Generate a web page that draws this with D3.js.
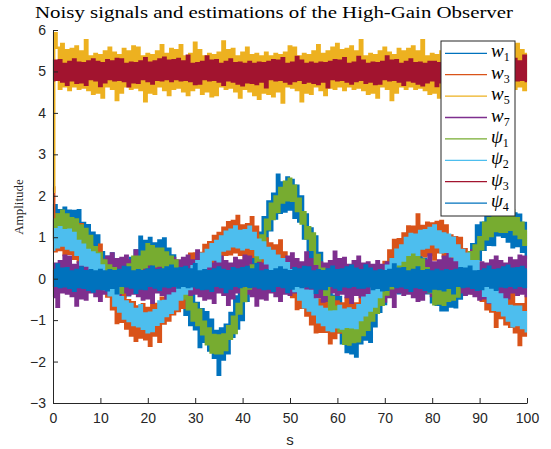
<!DOCTYPE html>
<html>
<head>
<meta charset="utf-8">
<script src="https://cdn.jsdelivr.net/npm/d3@7"></script>
<style>
  html, body { margin: 0; padding: 0; background: #fff; }
  svg { display: block; }
</style>
</head>
<body>
<svg id="chart" width="551" height="449"></svg>
<script>
// Sampling period of every recorded trace (seconds)
const dt = 0.5;

// Measured states (noisy)
const w1 = [
0.92,1.77,0.95,1.65,0.77,1.71,0.91,1.64,0.83,1.63,
0.88,1.65,0.68,1.34,0.44,1.29,0.41,1.11,0.26,1.04,
0.02,0.64,-0.22,0.53,-0.28,0.61,-0.37,0.36,-0.55,0.23,
-0.44,0.38,-0.40,0.50,-0.24,0.68,0.06,1.01,0.10,0.91,
0.18,0.98,0.14,0.85,0.02,0.92,0.17,0.97,0.05,0.72,
-0.16,0.56,-0.45,0.26,-0.61,0.08,-0.87,-0.22,-1.12,-0.37,
-1.22,-0.59,-1.65,-0.74,-1.52,-0.81,-1.73,-0.99,-1.91,-1.26,
-2.32,-1.20,-1.95,-1.11,-1.80,-0.83,-1.40,-0.43,-1.20,-0.32,
-1.00,0.04,-0.53,0.45,-0.20,0.88,0.20,1.11,0.48,1.48,
0.90,1.86,1.17,2.05,1.45,2.51,1.59,2.32,1.62,2.44,
1.67,2.38,1.47,2.24,1.38,1.98,0.97,1.55,0.44,1.21,
0.31,1.02,0.10,0.62,-0.31,0.30,-0.64,0.00,-1.01,-0.41,
-1.28,-0.44,-1.56,-0.95,-1.77,-1.00,-1.80,-1.03,-1.88,-0.91,
-1.56,-0.71,-1.47,-0.65,-1.52,-0.50,-1.15,-0.16,-0.80,0.02,
-0.61,0.36,-0.35,0.54,-0.24,0.50,-0.35,0.64,-0.11,0.68,
-0.07,0.79,0.10,0.90,-0.04,0.61,-0.30,0.48,-0.35,0.36,
-0.57,0.27,-0.63,0.07,-0.76,-0.03,-0.76,0.22,-0.67,0.14,
-0.69,0.14,-0.48,0.37,-0.38,0.56,-0.15,0.83,0.26,1.28,
0.45,1.35,0.70,1.58,0.82,1.58,0.81,1.75,1.05,1.89,
1.01,1.73,0.90,1.70,0.76,1.57,0.79,1.54,0.65,1.34,
0.48];

const w3 = [
2.20,0.66,1.55,0.69,1.40,0.57,1.38,0.60,1.37,0.48,
1.19,0.41,1.31,0.24,0.86,0.01,0.78,-0.07,0.74,-0.01,
0.82,-0.23,0.45,-0.43,0.23,-0.74,-0.15,-1.07,-0.24,-1.04,
-0.27,-1.20,-0.52,-1.37,-0.57,-1.50,-0.67,-1.42,-0.62,-1.46,
-0.71,-1.62,-0.64,-1.37,-0.61,-1.52,-0.46,-1.08,-0.27,-1.01,
-0.17,-0.86,0.08,-0.78,0.00,-0.70,0.21,-0.44,0.60,-0.23,
0.61,-0.20,0.62,-0.01,0.81,0.07,0.88,0.13,1.03,0.33,
1.10,0.18,1.23,0.58,1.36,0.59,1.39,0.64,1.51,0.58,
1.28,0.49,1.31,0.55,1.48,0.53,1.25,0.32,1.02,0.27,
0.97,0.07,0.85,-0.01,0.80,0.07,0.92,-0.09,0.63,-0.21,
0.49,-0.44,0.18,-0.73,0.10,-0.70,0.06,-0.89,-0.23,-1.10,
-0.33,-1.29,-0.50,-1.28,-0.52,-1.28,-0.58,-1.56,-0.66,-1.43,
-0.55,-1.30,-0.60,-1.34,-0.48,-1.30,-0.47,-1.31,-0.60,-1.45,
-0.45,-1.16,-0.33,-1.03,-0.10,-0.73,0.17,-0.66,0.15,-0.58,
0.40,-0.23,0.68,-0.06,0.93,0.15,0.95,0.20,1.09,0.40,
1.26,0.46,1.25,0.56,1.55,0.57,1.27,0.54,1.35,0.57,
1.33,0.46,1.37,0.64,1.39,0.54,1.28,0.39,1.04,0.15,
1.00,0.21,0.98,0.04,0.71,-0.16,0.60,-0.35,0.44,-0.36,
0.38,-0.53,0.14,-0.74,0.03,-0.79,-0.13,-1.16,-0.22,-0.95,
-0.25,-1.10,-0.36,-1.16,-0.33,-1.29,-0.62,-1.60,-0.62,-1.37,
-0.42];

const w5 = [
2.10,5.92,5.57,4.58,5.66,4.64,5.51,4.55,5.54,4.64,
5.60,4.58,5.48,4.61,5.75,4.55,5.36,4.46,5.42,4.49,
5.39,4.37,5.48,4.64,5.57,4.58,5.45,4.31,5.39,4.49,
5.54,4.64,5.48,4.58,5.60,4.61,5.57,4.55,5.36,4.28,
5.42,4.49,5.39,4.46,5.48,4.64,5.63,4.55,5.42,4.43,
5.54,4.58,5.51,4.61,5.63,4.52,5.36,4.43,5.42,4.55,
5.69,4.61,5.51,4.46,5.36,4.52,5.42,4.40,5.39,4.43,
5.45,4.64,5.72,4.58,5.51,4.61,5.54,4.52,5.36,4.37,
5.45,4.58,5.57,4.52,5.39,4.43,5.42,4.34,5.36,4.49,
5.45,4.46,5.36,4.40,5.42,4.52,5.39,4.25,5.45,4.64,
5.60,4.61,5.57,4.55,5.36,4.28,5.42,4.49,5.39,4.46,
5.48,4.64,5.63,4.55,5.42,4.43,5.48,4.61,5.57,4.58,
5.66,4.64,5.51,4.55,5.54,4.64,5.60,4.58,5.48,4.61,
5.75,4.55,5.36,4.46,5.42,4.49,5.39,4.37,5.48,4.64,
5.57,4.58,5.45,4.31,5.39,4.49,5.54,4.64,5.48,4.58,
5.54,4.64,5.60,4.58,5.48,4.61,5.75,4.55,5.36,4.46,
5.42,4.49,5.39,4.37,5.48,4.64,5.57,4.58,5.45,4.31,
5.39,4.49,5.54,4.64,5.48,4.58,5.60,4.61,5.57,4.55,
5.36,4.28,5.42,4.49,5.39,4.46,5.48,4.64,5.63,4.55,
5.42,4.43,5.48,4.61,5.57,4.58,5.66,4.64,5.51,4.55,
5.42];

const w7 = [
-0.44,0.36,-0.68,0.42,-0.33,0.55,-0.36,0.53,-0.42,0.33,
-0.65,0.39,-0.47,0.36,-0.50,0.44,-0.33,0.58,-0.42,0.39,
-0.53,0.44,-0.36,0.53,-0.39,0.61,-0.33,0.47,-0.42,0.50,
-0.33,0.55,-0.39,0.44,-0.36,0.68,-0.42,0.33,-0.50,0.39,
-0.47,0.36,-0.58,0.44,-0.33,0.53,-0.39,0.42,-0.63,0.36,
-0.47,0.50,-0.33,0.44,-0.39,0.50,-0.33,0.55,-0.39,0.44,
-0.36,0.68,-0.42,0.33,-0.50,0.39,-0.47,0.36,-0.58,0.44,
-0.33,0.53,-0.39,0.42,-0.63,0.36,-0.47,0.50,-0.33,0.44,
-0.39,0.55,-0.36,0.53,-0.42,0.33,-0.65,0.39,-0.47,0.36,
-0.50,0.44,-0.33,0.58,-0.42,0.39,-0.53,0.44,-0.36,0.53,
-0.39,0.61,-0.33,0.47,-0.42,0.39,-0.42,0.63,-0.36,0.47,
-0.50,0.33,-0.44,0.39,-0.55,0.36,-0.53,0.42,-0.33,0.65,
-0.39,0.47,-0.36,0.50,-0.44,0.33,-0.58,0.42,-0.39,0.53,
-0.44,0.36,-0.53,0.39,-0.61,0.33,-0.47,0.42,-0.50,0.33,
-0.55,0.39,-0.44,0.36,-0.68,0.42,-0.33,0.50,-0.39,0.47,
-0.36,0.58,-0.44,0.33,-0.53,0.36,-0.50,0.44,-0.33,0.58,
-0.42,0.39,-0.53,0.44,-0.36,0.53,-0.39,0.61,-0.33,0.47,
-0.42,0.50,-0.33,0.55,-0.39,0.44,-0.36,0.68,-0.42,0.33,
-0.50,0.39,-0.47,0.36,-0.58,0.44,-0.33,0.53,-0.39,0.42,
-0.63,0.36,-0.47,0.50,-0.33,0.44,-0.39,0.55,-0.36,0.53,
-0.42];

// Observer estimates
const psi1 = [
1.43,1.00,1.55,1.18,1.64,1.16,1.55,0.99,1.46,0.99,
1.43,0.95,1.28,0.79,1.20,0.66,1.03,0.47,0.76,0.17,
0.62,0.10,0.44,-0.07,0.32,-0.14,0.25,-0.28,0.10,-0.34,
0.21,-0.17,0.34,-0.01,0.53,0.08,0.53,0.14,0.65,0.27,
0.83,0.35,0.78,0.30,0.72,0.32,0.72,0.21,0.63,0.12,
0.53,0.04,0.44,-0.24,0.06,-0.48,-0.17,-0.74,-0.45,-1.01,
-0.61,-1.12,-0.75,-1.34,-1.04,-1.58,-1.20,-1.78,-1.36,-1.80,
-1.37,-1.80,-1.35,-1.72,-1.15,-1.45,-0.92,-1.31,-0.61,-0.84,
-0.24,-0.54,0.07,-0.24,0.32,-0.01,0.70,0.44,1.04,0.78,
1.42,1.19,1.81,1.44,1.98,1.61,2.19,1.84,2.34,1.89,
2.41,1.88,2.24,1.63,1.93,1.33,1.60,0.97,1.24,0.70,
1.09,0.36,0.57,-0.03,0.24,-0.39,-0.16,-0.79,-0.44,-0.98,
-0.68,-1.27,-0.97,-1.57,-1.14,-1.59,-1.12,-1.53,-1.13,-1.51,
-1.01,-1.36,-0.84,-1.23,-0.72,-1.01,-0.37,-0.82,-0.33,-0.63,
-0.06,-0.38,0.16,-0.23,0.36,0.03,0.52,0.09,0.53,0.03,
0.56,0.15,0.65,0.20,0.56,0.06,0.46,-0.10,0.25,-0.33,
-0.05,-0.62,-0.13,-0.60,-0.20,-0.63,-0.16,-0.53,-0.05,-0.50,
-0.04,-0.43,0.14,-0.16,0.39,0.03,0.64,0.28,0.80,0.47,
1.00,0.71,1.35,0.95,1.46,1.03,1.51,1.15,1.60,1.13,
1.59,1.13,1.59,1.18,1.65,1.07,1.46,0.98,1.35,0.82,
1.15];

const psi2 = [
0.70,1.19,0.76,1.24,0.80,1.17,0.73,1.18,0.69,1.10,
0.58,0.91,0.34,0.82,0.32,0.69,0.20,0.63,0.19,0.58,
0.01,0.32,-0.25,0.12,-0.40,-0.07,-0.65,-0.23,-0.79,-0.45,
-0.96,-0.55,-1.02,-0.61,-1.12,-0.73,-1.15,-0.64,-1.21,-0.84,
-1.29,-0.82,-1.26,-0.76,-1.11,-0.55,-1.04,-0.54,-0.90,-0.41,
-0.82,-0.36,-0.74,-0.17,-0.50,0.05,-0.36,0.12,-0.25,0.30,
-0.13,0.42,0.08,0.60,0.21,0.69,0.30,0.83,0.46,0.91,
0.42,1.02,0.68,1.13,0.71,1.18,0.78,1.26,0.76,1.15,
0.71,1.17,0.75,1.25,0.72,1.10,0.57,0.94,0.50,0.87,
0.37,0.74,0.24,0.67,0.20,0.55,-0.03,0.47,0.03,0.37,
-0.16,0.20,-0.30,0.09,-0.50,-0.18,-0.69,-0.29,-0.77,-0.30,
-0.86,-0.50,-1.05,-0.68,-1.12,-0.73,-1.24,-0.80,-1.26,-0.79,
-1.17,-0.66,-1.20,-0.75,-1.16,-0.72,-1.17,-0.76,-1.19,-0.64,
-1.00,-0.46,-0.88,-0.40,-0.77,-0.23,-0.67,-0.11,-0.44,0.11,
-0.20,0.31,-0.12,0.47,0.14,0.70,0.35,0.80,0.44,0.98,
0.58,1.08,0.64,1.06,0.58,1.15,0.73,1.17,0.75,1.22,
0.83,1.28,0.76,1.14,0.64,1.09,0.65,1.06,0.54,0.99,
0.45,0.80,0.29,0.69,0.21,0.60,0.05,0.42,-0.04,0.42,
-0.21,0.09,-0.41,-0.04,-0.56,-0.21,-0.75,-0.31,-0.77,-0.38,
-0.88,-0.50,-1.01,-0.66,-1.15,-0.68,-1.12,-0.68,-1.19,-0.81,
-1.27];

const psi3 = [
4.79,5.26,4.80,5.27,4.76,5.18,4.68,5.23,4.79,5.29,
4.73,5.21,4.74,5.20,4.68,5.24,4.82,5.29,4.79,5.23,
4.65,5.20,4.74,5.27,4.82,5.24,4.79,5.30,4.80,5.29,
4.77,5.18,4.64,5.21,4.74,5.20,4.73,5.24,4.82,5.32,
4.77,5.21,4.71,5.24,4.80,5.29,4.79,5.33,4.82,5.26,
4.77,5.27,4.82,5.30,4.79,5.24,4.80,5.38,4.77,5.18,
4.70,5.20,4.71,5.23,4.82,5.36,4.79,5.26,4.80,5.27,
4.76,5.18,4.68,5.23,4.79,5.29,4.76,5.20,4.71,5.21,
4.67,5.18,4.74,5.23,4.73,5.18,4.70,5.21,4.76,5.20,
4.62,5.23,4.82,5.27,4.79,5.26,4.80,5.32,4.76,5.18,
4.71,5.21,4.77,5.35,4.80,5.26,4.73,5.18,4.76,5.21,
4.73,5.18,4.70,5.21,4.76,5.20,4.62,5.23,4.82,5.27,
4.79,5.26,4.80,5.32,4.76,5.18,4.71,5.21,4.77,5.35,
4.80,5.26,4.73,5.18,4.76,5.21,4.70,5.20,4.71,5.23,
4.82,5.36,4.79,5.26,4.80,5.27,4.76,5.18,4.68,5.23,
4.79,5.29,4.76,5.20,4.71,5.21,4.67,5.18,4.74,5.23,
4.79,5.23,4.65,5.20,4.74,5.27,4.82,5.24,4.79,5.30,
4.80,5.29,4.77,5.18,4.64,5.21,4.74,5.20,4.73,5.24,
4.82,5.32,4.77,5.21,4.71,5.24,4.80,5.29,4.79,5.33,
4.82,5.26,4.77,5.27,4.82,5.30,4.79,5.24,4.80,5.38,
4.77];

const psi4 = [
0.21,-0.17,0.34,-0.20,0.24,-0.18,0.25,-0.22,0.17,-0.29,
0.21,-0.20,0.27,-0.22,0.18,-0.27,0.20,-0.31,0.17,-0.24,
0.21,-0.25,0.17,-0.28,0.20,-0.22,0.18,-0.35,0.21,-0.17,
0.28,-0.18,0.27,-0.21,0.17,-0.34,0.20,-0.24,0.18,-0.25,
0.22,-0.17,0.29,-0.21,0.20,-0.27,0.22,-0.18,0.27,-0.20,
0.31,-0.17,0.24,-0.21,0.25,-0.17,0.28,-0.20,0.22,-0.18,
0.35,-0.21,0.17,-0.25,0.20,-0.24,0.18,-0.29,0.22,-0.17,
0.27,-0.20,0.21,-0.32,0.18,-0.24,0.25,-0.17,0.22,-0.20,
0.25,-0.17,0.28,-0.20,0.22,-0.18,0.35,-0.21,0.17,-0.25,
0.20,-0.24,0.18,-0.29,0.22,-0.17,0.27,-0.20,0.21,-0.32,
0.18,-0.24,0.25,-0.17,0.22,-0.20,0.28,-0.18,0.27,-0.21,
0.17,-0.34,0.20,-0.24,0.18,-0.25,0.22,-0.17,0.29,-0.21,
0.20,-0.27,0.22,-0.18,0.27,-0.20,0.31,-0.17,0.24,-0.21,
0.20,-0.21,0.32,-0.18,0.24,-0.25,0.17,-0.22,0.20,-0.28,
0.18,-0.27,0.21,-0.17,0.34,-0.20,0.24,-0.18,0.25,-0.22,
0.17,-0.29,0.21,-0.20,0.27,-0.22,0.18,-0.27,0.20,-0.31,
0.17,-0.24,0.21,-0.25,0.17,-0.28,0.20,-0.22,0.18,-0.35,
0.21,-0.17,0.25,-0.20,0.24,-0.18,0.29,-0.22,0.17,-0.27,
0.18,-0.25,0.22,-0.17,0.29,-0.21,0.20,-0.27,0.22,-0.18,
0.27,-0.20,0.31,-0.17,0.24,-0.21,0.25,-0.17,0.28,-0.20,
0.22];

// Axis ticks and labels
const xTicks = [0, 10, 20, 30, 40, 50, 60, 70, 80, 90, 100];
const yTicks = [-3, -2, -1, 0, 1, 2, 3, 4, 5, 6];
const seriesSymbols = ["w", "w", "w", "w", "ψ", "ψ", "ψ", "ψ"];
const seriesIndices = ["1", "3", "5", "7", "1", "2", "3", "4"];
const seriesColors = ["#0072BD", "#D95319", "#EDB120", "#7E2F8E", "#77AC30", "#4DBEEE", "#A2142F", "#0072BD"];
const titleText = "Noisy signals and estimations of the High-Gain Observer";
const xLabelText = "s";
const yLabelText = "Amplitude";

const series = [w1, w3, w5, w7, psi1, psi2, psi3, psi4];

const svg = d3.select("#chart");
const axisColor = "#262626";
const sans = "'Liberation Sans', Arial, Helvetica, sans-serif";
const serif = "'Liberation Serif', 'Times New Roman', serif";

const x = d3.scaleLinear().domain([0, 100]).range([53, 527]);
const y = d3.scaleLinear().domain([-3, 6]).range([403, 30]);

svg.append("rect").attr("width", 551).attr("height", 449).attr("fill", "#fff");

// Traces, in plotting order. Each sample-to-sample jump is drawn as a
// vertical stroke one sample period wide, so the noise fills its band.
const stepPx = x(dt) - x(0);
const line = d3.line()
  .x((d, i) => x(i * dt))
  .y(d => y(d))
  .curve(d3.curveStep);

svg.append("g")
  .selectAll("path")
  .data(series)
  .join("path")
  .attr("d", line)
  .attr("fill", "none")
  .attr("stroke", (d, i) => seriesColors[i])
  .attr("stroke-width", stepPx + 0.15)
  .attr("stroke-linejoin", "miter")
  .attr("stroke-linecap", "butt");

// Axes (ticks point inward)
const gx = svg.append("g")
  .attr("transform", "translate(0,403)")
  .call(d3.axisBottom(x).tickValues(xTicks).tickSizeInner(-5).tickSizeOuter(0).tickPadding(10));
const gy = svg.append("g")
  .attr("transform", "translate(53,0)")
  .call(d3.axisLeft(y).tickValues(yTicks).tickSizeInner(-5).tickSizeOuter(0).tickPadding(7));

[gx, gy].forEach(g => {
  g.select(".domain").attr("stroke", axisColor).attr("stroke-width", 1);
  g.selectAll(".tick line").attr("stroke", axisColor).attr("stroke-width", 1);
  g.selectAll(".tick text")
    .attr("fill", axisColor)
    .attr("font-family", sans)
    .attr("font-size", 14);
});

// Title and axis labels
svg.append("text")
  .attr("x", 274).attr("y", 18)
  .attr("text-anchor", "middle")
  .attr("font-family", serif)
  .attr("font-size", 17)
  .attr("textLength", 478)
  .attr("lengthAdjust", "spacingAndGlyphs")
  .attr("fill", "#000")
  .text(titleText);

svg.append("text")
  .attr("x", 290).attr("y", 445)
  .attr("text-anchor", "middle")
  .attr("font-family", sans)
  .attr("font-size", 15)
  .attr("fill", axisColor)
  .text(xLabelText);

svg.append("text")
  .attr("transform", "translate(23,207) rotate(-90)")
  .attr("text-anchor", "middle")
  .attr("font-family", serif)
  .attr("font-size", 13)
  .attr("fill", axisColor)
  .text(yLabelText);

// Legend
const legend = svg.append("g");
const lgX = 441, lgY = 41, lgW = 74, lgH = 175, rowStep = 21.4, firstRow = 53.3;
legend.append("rect")
  .attr("x", lgX).attr("y", lgY).attr("width", lgW).attr("height", lgH)
  .attr("fill", "#fff").attr("stroke", axisColor).attr("stroke-width", 1);

const rows = legend.selectAll("g.row")
  .data(seriesColors)
  .join("g")
  .attr("class", "row")
  .attr("transform", (d, i) => `translate(0,${firstRow + i * rowStep})`);

rows.append("line")
  .attr("x1", 445).attr("x2", 487)
  .attr("y1", 0).attr("y2", 0)
  .attr("stroke", d => d)
  .attr("stroke-width", 1.3);

const labels = rows.append("text")
  .attr("x", 491).attr("y", 4)
  .attr("font-family", serif)
  .attr("fill", "#000");
labels.append("tspan")
  .attr("font-style", "italic")
  .attr("font-size", 19)
  .text((d, i) => seriesSymbols[i]);
labels.append("tspan")
  .attr("font-size", 12)
  .attr("dy", 4)
  .text((d, i) => seriesIndices[i]);
</script>
</body>
</html>
